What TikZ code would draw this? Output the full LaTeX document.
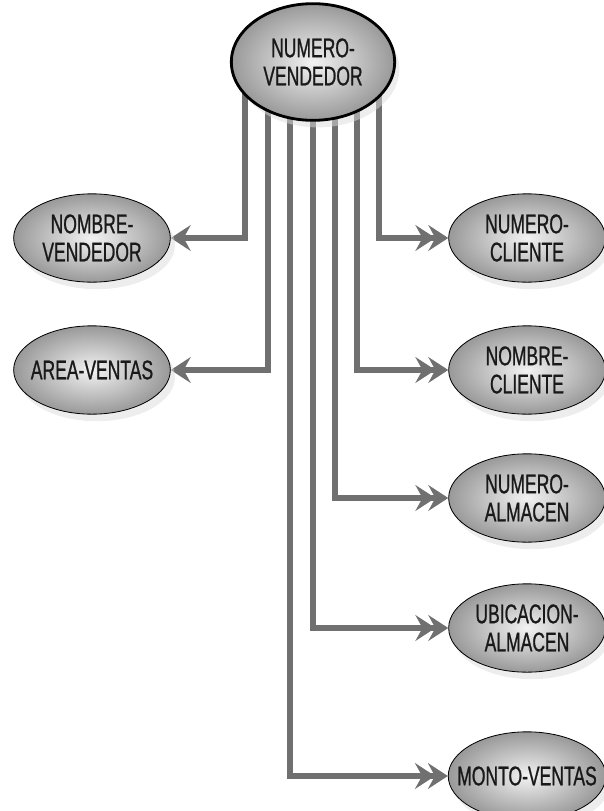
\documentclass[tikz,border=0pt]{standalone}
\usepackage{fontspec}
\setmainfont{Liberation Sans}[FakeStretch=0.65, FakeBold=0.8]
\usetikzlibrary{shapes.geometric, arrows.meta, shadows, calc, backgrounds}

\tikzset{
  atributo/.style={ellipse, draw=black, line width=0.7pt, shading=radial,
    inner color=black!5, outer color=black!40, minimum width=4.7cm,
    minimum height=2.65cm, inner xsep=-12pt, inner ysep=0pt, align=center,
    text=black!90, font=\fontsize{23}{24}\selectfont,
    drop shadow={shadow xshift=4pt, shadow yshift=-6pt, fill=black!14}},
  clave/.style={atributo, line width=2.4pt, minimum width=4.9cm, minimum height=3.5cm},
  dep/.style={draw=black!56, line width=4.4pt,
    -{Stealth[length=17pt,width=22pt,inset=6pt]}},
  depm/.style={draw=black!56, line width=4.4pt,
    -{Stealth[length=17pt,width=22pt,inset=6pt,sep=-6pt] Stealth[length=17pt,width=22pt,inset=6pt]}},
}

\begin{document}
\begin{tikzpicture}[x=0.03cm, y=-0.03cm]
  \useasboundingbox (0,0) rectangle (603,811);

  % Atributo clave
  \node[clave] (numv) at (313,62) {NUMERO-\\VENDEDOR};

  % Lado izquierdo
  \node[atributo] (nomv) at (92,238) {NOMBRE-\\VENDEDOR};
  \node[atributo] (area) at (92,370) {AREA-VENTAS};

  % Lado derecho
  \node[atributo] (numc) at (527,238) {NUMERO-\\CLIENTE};
  \node[atributo] (nomc) at (527,370) {NOMBRE-\\CLIENTE};
  \node[atributo] (numa) at (527,498) {NUMERO-\\ALMACEN};
  \node[atributo] (ubic) at (527,628) {UBICACION-\\ALMACEN};
  \node[atributo] (monto) at (527,776) {MONTO-VENTAS};

  % Flechas
  \begin{scope}[on background layer]
    \foreach \dx/\dest in {-68/nomv, -45/area}
      \draw[dep] ($(numv.center)+(\dx,0)$) |- (\dest.east);
    \foreach \dx/\dest in {-23/monto, 0/ubic, 22/numa, 44/nomc, 66/numc}
      \draw[depm] ($(numv.center)+(\dx,0)$) |- (\dest.west);
  \end{scope}
\end{tikzpicture}
\end{document}
